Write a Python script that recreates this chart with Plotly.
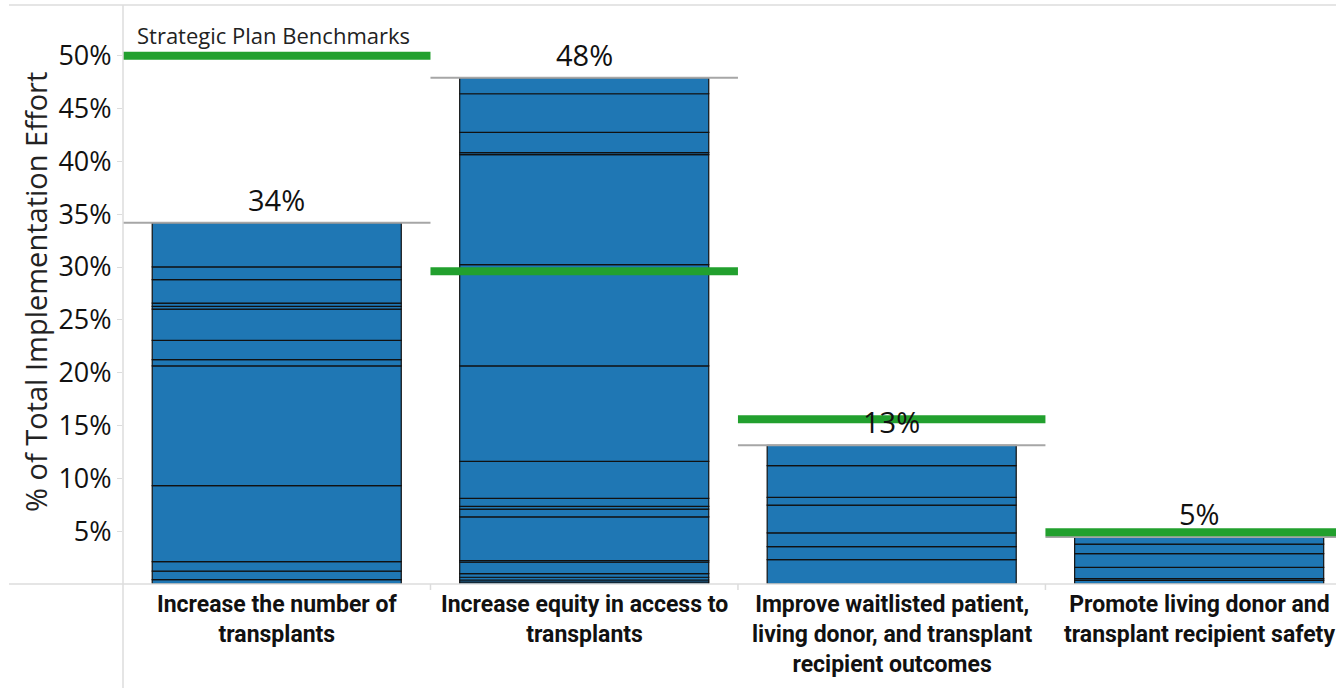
import plotly.graph_objects as go
import numpy as np

categories = [
    "Increase the number of<br>transplants",
    "Increase equity in access to<br>transplants",
    "Improve waitlisted patient,<br>living donor, and transplant<br>recipient outcomes",
    "Promote living donor and<br>transplant recipient safety",
]

# segment heights (% of total effort), bottom to top
seg_increase_number = [0.41, 0.80, 0.91, 7.19, 11.33, 0.60, 1.81, 2.97, 0.26, 0.31, 2.21, 1.21, 4.18]
seg_increase_equity = [0.19, 0.19, 0.26, 0.34, 1.08, 0.15, 4.15, 0.73, 0.25, 0.76, 3.51, 9.03, 9.59,
                       10.41, 0.19, 1.92, 3.65, 1.52]
seg_improve_outcomes = [2.31, 1.23, 1.30, 2.63, 0.73, 3.01, 1.92]
seg_promote_safety = [0.34, 0.16, 1.07, 1.30, 0.91, 0.67]

total_labels = ["34%", "48%", "13%", "5%"]
benchmarks = [50.0, 29.6, 15.6, 4.9]
y_ticks = [5, 10, 15, 20, 25, 30, 35, 40, 45, 50]
y_tick_labels = ["5%", "10%", "15%", "20%", "25%", "30%", "35%", "40%", "45%", "50%"]

segments = [seg_increase_number, seg_increase_equity, seg_improve_outcomes, seg_promote_safety]

BLUE = "#1f77b4"
GREEN = "#22a02e"
FRAME = "#dcdcdc"

fig = go.Figure()
totals = []
for i, segs in enumerate(segments):
    segs = np.array(segs)
    base = np.concatenate([[0], np.cumsum(segs)[:-1]])
    totals.append(float(segs.sum()))
    fig.add_trace(go.Bar(
        x=[i] * len(segs), y=segs, base=base, width=0.81,
        marker=dict(color=BLUE, line=dict(color="#111111", width=1.2)),
        showlegend=False, hoverinfo="skip",
    ))

shapes = []
annotations = []
for i, tot in enumerate(totals):
    shapes.append(dict(type="line", xref="x", yref="y", x0=i - 0.5, x1=i + 0.5, y0=tot, y1=tot,
                       line=dict(color="#a6a6a6", width=2), layer="above"))
    annotations.append(dict(x=i, y=tot, xref="x", yref="y", text=total_labels[i], showarrow=False,
                            xanchor="center", yanchor="bottom", yshift=2,
                            font=dict(family="Open Sans", size=29, color="#111111")))
for i, b in enumerate(benchmarks):
    shapes.append(dict(type="line", xref="x", yref="y", x0=i - 0.5, x1=i + 0.5, y0=b, y1=b,
                       line=dict(color=GREEN, width=8), layer="above"))

W, H = 1336, 688
ML, MT, MB = 123, 5, 104
pw = W - ML
ph = H - MT - MB
xl = (9 - ML) / pw
shapes.append(dict(type="line", xref="paper", yref="paper", x0=xl, x1=1, y0=1, y1=1,
                   line=dict(color=FRAME, width=1.5)))
shapes.append(dict(type="line", xref="paper", yref="paper", x0=xl, x1=1, y0=0, y1=0,
                   line=dict(color=FRAME, width=1.5)))
shapes.append(dict(type="line", xref="paper", yref="paper", x0=0, x1=0, y0=-MB / ph, y1=1,
                   line=dict(color=FRAME, width=1.5)))
for k in [0.5, 1.5, 2.5]:
    shapes.append(dict(type="line", xref="x", yref="paper", x0=k, x1=k, y0=0, y1=-6 / ph,
                       line=dict(color=FRAME, width=1.5)))

for i, c in enumerate(categories):
    annotations.append(dict(x=i, y=0, xref="x", yref="paper", text="<b>" + c + "</b>", showarrow=False,
                            xanchor="center", yanchor="top", yshift=-5, align="center",
                            font=dict(family="Liberation Sans Narrow, Roboto, sans-serif", size=23,
                                      color="#111111")))

annotations.append(dict(x=(35 - ML) / pw, y=(H - MB - 292) / ph, xref="paper", yref="paper",
                        xanchor="center", yanchor="middle",
                        text="% of Total Implementation Effort", textangle=-90, showarrow=False,
                        font=dict(family="Open Sans", size=29, color="#222222")))
annotations.append(dict(x=(273 - ML) / pw, y=(H - MB - 35) / ph, xref="paper", yref="paper",
                        xanchor="center", yanchor="middle",
                        text="Strategic Plan Benchmarks", showarrow=False,
                        font=dict(family="Open Sans", size=22, color="#222222")))

fig.update_layout(
    width=W, height=H,
    margin=dict(l=ML, r=0, t=MT, b=MB),
    paper_bgcolor="white", plot_bgcolor="white",
    barmode="overlay",
    shapes=shapes, annotations=annotations,
    xaxis=dict(range=[-0.5, 3.445], showticklabels=False, showgrid=False, zeroline=False,
               showline=False, ticks=""),
    yaxis=dict(range=[0, 54.8], tickvals=y_ticks, ticktext=y_tick_labels,
               showgrid=False, zeroline=False, showline=False, ticks="outside", ticklen=5,
               tickcolor=FRAME, tickfont=dict(family="Open Sans", size=27, color="#111111")),
)

fig.write_html("out.html", config={"displayModeBar": False},
               post_script="document.body.style.margin='0';document.body.style.overflow='hidden';")
